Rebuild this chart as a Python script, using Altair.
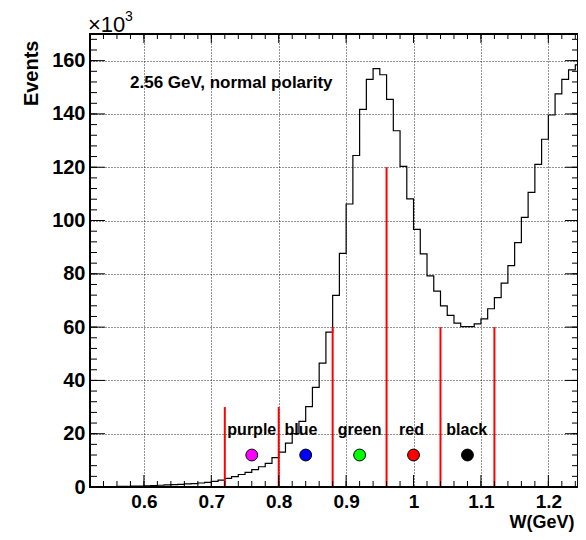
import altair as alt
import pandas as pd

# ---- data ----
bin_lo = [round(0.52 + 0.01 * i, 2) for i in range(73)]  # left edges 0.52 .. 1.24
events_k = [
    0.05, 0.08, 0.10, 0.15, 0.20, 0.25, 0.30, 0.35,            # 0.52-0.59
    0.45, 0.55, 0.65, 0.80, 0.90, 1.00, 1.15, 1.30, 1.50, 1.70,  # 0.60-0.69
    2.1, 2.6, 3.2, 3.9, 4.7, 5.5, 6.5, 7.6, 8.9, 11.0,          # 0.70-0.79
    13.1, 16.5, 20.0, 24.6, 30.2, 37.4, 46.5, 58.1, 71.9, 87.7,  # 0.80-0.89
    106.2, 124.4, 141.7, 153.0, 157.0, 154.7, 145.5, 133.7, 120.3, 108.1,  # 0.90-0.99
    96.7, 87.5, 79.2, 73.5, 68.0, 64.4, 61.5, 60.2, 60.2, 61.2,  # 1.00-1.09
    63.1, 66.9, 71.1, 76.5, 83.1, 91.7, 101.2, 110.6, 121.1, 130.5,  # 1.10-1.19
    139.6, 147.5, 153.0, 156.5, 158.4,                           # 1.20-1.24
]
cut_x = [0.72, 0.80, 0.88, 0.96, 1.04, 1.12]
cut_top = [30, 30, 60, 120, 60, 60]
dot_x = [0.76, 0.84, 0.92, 1.00, 1.08]
dot_y = [12, 12, 12, 12, 12]
dot_color = ["#ff00ff", "#0000ff", "#00ff00", "#ff0000", "#000000"]
lab_text = ["purple", "blue", "green", "red", "black"]
lab_x = [0.76, 0.833, 0.92, 0.997, 1.079]
lab_y = [19.6, 19.6, 19.6, 19.6, 19.6]
x_major = [0.6, 0.7, 0.8, 0.9, 1.0, 1.1, 1.2]
x_minor = [round(0.52 + 0.02 * i, 2) for i in range(37)]
y_major = [0, 20, 40, 60, 80, 100, 120, 140, 160]
y_minor = list(range(0, 170, 4))

XDOM = [0.52, 1.244]
YDOM = [0, 170]
W, H = 488, 453
FONT = "Liberation Sans"

hist = pd.DataFrame({"x": bin_lo + [1.25], "y": events_k + [events_k[-1]]})
cuts = pd.DataFrame({"x": cut_x, "y": [0] * len(cut_x), "y1": cut_top})
dots = pd.DataFrame({"x": dot_x, "y": dot_y, "c": dot_color})
labs = pd.DataFrame({"x": lab_x, "y": lab_y, "t": lab_text})
xmaj = pd.DataFrame({"x": x_major})
xmin = pd.DataFrame({"x": x_minor})
ymaj = pd.DataFrame({"y": y_major})
ymin = pd.DataFrame({"y": y_minor})

xs = alt.Scale(domain=XDOM, nice=False, zero=False)
ys = alt.Scale(domain=YDOM, nice=False)

XAX = alt.Axis(values=x_major, format="~g", grid=True, ticks=False,
               domain=False, gridColor="black", gridDash=[1, 2],
               gridOpacity=0.85, labelFont=FONT, labelFontWeight="bold",
               labelFontSize=19, labelColor="black", labelPadding=5,
               title="W(GeV)", titleFont=FONT, titleFontWeight="bold",
               titleFontSize=18, titleColor="black", titleAlign="right",
               titleX=484, titleY=44, titleBaseline="bottom",
               labelFlush=False)
YAX = alt.Axis(values=y_major, format="d", grid=True, ticks=False,
               domain=False, gridColor="black", gridDash=[1, 2],
               gridOpacity=0.85, labelFont=FONT, labelFontWeight="bold",
               labelFontSize=20, labelColor="black", labelPadding=5,
               title="Events", titleFont=FONT, titleFontWeight="bold",
               titleFontSize=20, titleColor="black", titleAngle=270,
               titleAlign="right", titleX=-59, titleY=6,
               titleBaseline="middle", labelFlush=False)

X = alt.X("x:Q", scale=xs, axis=XAX)
Y = alt.Y("y:Q", scale=ys, axis=YAX)

line = alt.Chart(hist).mark_line(interpolate="step-after", color="black",
                                 strokeWidth=1.2, clip=True).encode(x=X, y=Y)

rules = alt.Chart(cuts).mark_rule(color="#ff0000", strokeWidth=2).encode(
    x=X, y=Y, y2="y1:Q")

points = alt.Chart(dots).mark_point(shape="circle", filled=True, size=140,
                                    opacity=1, stroke="black", strokeWidth=1).encode(
    x=X, y=Y, fill=alt.Fill("c:N", scale=None))

labels = alt.Chart(labs).mark_text(font=FONT, fontWeight="bold", fontSize=16,
                                   color="black", align="center",
                                   baseline="alphabetic").encode(x=X, y=Y, text="t:N")

def xticks(df, y0, y1):
    return alt.Chart(df).mark_rule(color="black", strokeWidth=1).encode(
        x=X, y=alt.value(y0), y2=alt.value(y1))

def yticks(df, x0, x1):
    return alt.Chart(df).mark_rule(color="black", strokeWidth=1).encode(
        y=Y, x=alt.value(x0), x2=alt.value(x1))

ticks = [
    xticks(xmaj, H, H - 12), xticks(xmin, H, H - 6),
    xticks(xmaj, 0, 9), xticks(xmin, 0, 5),
    yticks(ymaj, 0, 15), yticks(ymin, 0, 7),
    yticks(ymaj, W, W - 13), yticks(ymin, W, W - 6),
]

frame = alt.Chart(pd.DataFrame({"k": [0]})).mark_rect(
    fill=None, stroke="black", strokeWidth=2).encode(
    x=alt.value(0), x2=alt.value(W), y=alt.value(0), y2=alt.value(H))

note = alt.Chart(pd.DataFrame({"t": ["2.56 GeV, normal polarity"]})).mark_text(
    font=FONT, fontWeight="bold", fontSize=17, color="black", align="left",
    baseline="alphabetic").encode(x=alt.value(40), y=alt.value(54), text="t:N")

exp10 = alt.Chart(pd.DataFrame({"t": ["\u00d710"]})).mark_text(
    font=FONT, fontSize=22, color="black", align="left",
    baseline="alphabetic").encode(x=alt.value(-2), y=alt.value(-2), text="t:N")
exp3 = alt.Chart(pd.DataFrame({"t": ["3"]})).mark_text(
    font=FONT, fontSize=14, color="black", align="left",
    baseline="alphabetic").encode(x=alt.value(35), y=alt.value(-13), text="t:N")

chart = alt.layer(line, rules, points, labels, *ticks, frame, note, exp10, exp3).properties(
    width=W, height=H,
    autosize=alt.AutoSizeParams(type="none"),
    padding={"left": 82, "top": 26, "right": 0, "bottom": 45},
).configure_view(stroke=None).configure(background="white")

chart.save("out.html", embed_options={"renderer": "svg", "actions": False})
